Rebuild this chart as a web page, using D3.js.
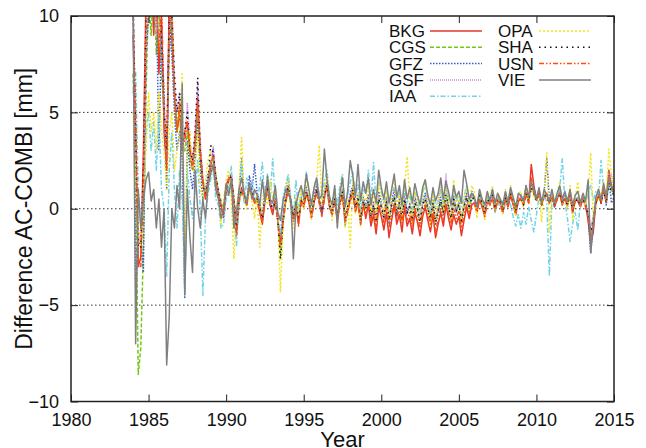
<!DOCTYPE html>
<html>
<head>
<meta charset="utf-8">
<script src="https://cdn.jsdelivr.net/npm/d3@7"></script>
<style>
  body { margin: 0; background: #fff; }
  svg { font-family: "Liberation Sans", Arial, sans-serif; }
  .grid line { stroke: #333; stroke-dasharray: 1.5, 2.5; stroke-width: 1; }
</style>
</head>
<body>
<svg id="chart" width="646" height="448"></svg>
<script>
"use strict";

// every series is sampled every two months, first sample 1984.0
const startYear = 1984;
const stepsPerYear = 6;

const xTicks = [1980, 1985, 1990, 1995, 2000, 2005, 2010, 2015];
const yTicks = [-10, -5, 0, 5, 10];
const gridValues = [-5, 0, 5];

const names = ["BKG", "CGS", "GFZ", "GSF", "IAA", "OPA", "SHA", "USN", "VIE"];

const bkg = [
  9, 4, -3, -2.5, 3, 11, 13, 12, 9, 12, 7, 10, 4, 2, 11, 9, 6, 4,
  5, 3, 4, 4.5, 3, 2.5, 3.5, 5.8, 3, 1.5, 0.5, 1.2, 2.2, 2.8, 1.5, 0.8, 0.2, -0.3,
  1.2, 1.6, 1.8, 0.3, -1.3, 0.6, 1.1, 0.5, 0.2, 1.2, 0.8, 0.3, 0.6, -0.2, -0.8, 0.4, 1.1, 0.2,
  -0.3, 0.5, -0.6, -1.8, -0.5, 0.4, 1.2, 0.3, -0.5, 0.2, -0.8, 0.5, 0.1, 0.8, 0.5, -0.4, 0.3, 1.0,
  0.5, -0.3, 0.6, 1.2, 0.1, -0.2, 0.4, -0.5, 0.3, 0.8, -0.6, -0.2, 0.5, 0.9, -0.1, 0.4, -0.7, 0.3,
  -0.5, 0.2, -0.9, -0.3, -1.3, 0.1, -0.4, -1.1, -0.2, -1.5, -0.6, 0.2, -0.8, -0.3, -1.2, 0.1, -0.9, -0.5,
  -1.3, -0.2, -0.7, -1.4, -0.4, 0.1, -0.6, -1.2, -0.3, -1.5, -0.8, -0.2, -0.9, 0.2, -0.5, -1.1, -0.3, -0.8,
  -0.4, -1.4, -0.6, 0.1, -0.5, 0.2, 0.3, -0.2, 0.5, 0.1, -0.4, 0.4, 0.2, 0.6, -0.1, 0.4, 0.3, -0.2,
  0.5, 0.1, 0.7, 0.2, -0.3, 0.4, 0.6, 0.2, 0.8, 0.3, 2.3, 1.2, 0.5, 0.9, 0.2, 0.6, 0.8, 0.3,
  0.7, 0.1, 0.5, 0.9, 0.2, 0.6, 0.3, 0.8, -0.2, 0.5, 0.4, 0.1, 0.6, 0.2, -0.6, -1.9, -1.2, 0.4,
  0.8, 0.3, 1.1, 0.5, 2.0, 1.2, 0.8
];

const cgs = [
  7, 2, -8.6, -7.2, -2, 6, 11, 9, 12, 8, 11, 7, 5, 3, 8, 10, 6, 4,
  5.5, 3.5, 3, 4, 2.5, 2, 3, 5, 2.5, 1.2, 0.8, 1.5, 2.5, 2.6, 1.8, 1, 0.4, 0,
  0.8, 1.4, 1.5, 0.6, -0.8, 0.3, 0.9, 0.7, 0.5, 1.3, 0.6, 0.4, 0.4, 0.1, -0.4, 0.6, 0.9, 0.3,
  0.1, 0.3, -0.4, -2.6, -0.8, 0.3, 0.9, 0.4, -0.3, 0.5, -0.4, 0.3, 0.4, 0.9, 0.3, -0.2, 0.5, 0.8,
  0.3, 0.1, 0.7, 1.1, 0.2, 0, 0.5, -0.2, 0.4, 0.9, -0.3, 0.1, 0.6, 1.0, 0.2, 0.5, -0.4, 0.4,
  0, 0.4, -0.3, 0.2, -0.6, 0.5, 0.1, -0.3, 0.4, -0.5, 0.2, 0.6, -0.2, 0.3, -0.4, 0.5, -0.2, 0.1,
  -0.5, 0.3, 0, -0.6, 0.2, 0.5, 0, -0.4, 0.3, -0.6, -0.1, 0.3, -0.2, 0.6, 0.1, -0.4, 0.4, -0.1,
  0.2, -0.5, 0.1, 0.5, 0, 0.6, 0.5, 0.1, 0.7, 0.3, -0.1, 0.5, 0.3, 0.7, 0.1, 0.5, 0.4, 0,
  0.6, 0.2, 0.8, 0.4, 0, 0.5, 0.5, 0.3, 0.9, 0.4, 1.2, 0.8, 0.4, 0.8, 0.3, 0.7, 0.6, 0.4,
  0.6, 0.2, 0.5, 0.8, 0.3, 0.5, 0.2, 0.7, 0, 0.4, 0.5, 0.2, 0.5, 0.3, -0.3, -1.2, -0.5, 0.3,
  0.6, 0.4, 0.9, 0.3, 1.4, 1.0, 0.7
];

const gfz = [
  12, -3.7, -2, -1.5, -3.3, 8, 10, 13, 10, 11, 3, 9, 6, 1, 10, 8, 5, 3,
  4, 2.5, -4.6, 3.5, 2, 1, 2.5, 4.5, 2, 0.5, 1, 1.8, 2, 3.1, 1.2, 0.6, 0, -0.5,
  1.0, 1.2, 1.3, 0.2, -1.1, 1.0, 2.6, 0.4, 0.3, 1.7, 1.0, 2.3, 0.8, 0.3, -0.5, 1.0, 1.3, 0.5,
  -0.2, 0.8, -0.7, -1.6, -0.4, 0.8, 1.6, 0.2, -0.7, 0.4, -0.6, 0.6, 0.5, 1.1, 0.4, -0.5, 0.6, 1.3,
  0.4, -0.2, 0.9, 1.4, 0.3, -0.4, 0.7, -0.6, 0.5, 1.0, -0.9, 0, 0.8, 1.2, 0.1, 0.7, -0.8, 0.6,
  0.2, 0.7, -0.5, 0.4, -0.9, 0.9, 0.3, -0.5, 0.6, -0.7, 0.4, 1.0, -0.4, 0.5, -0.6, 0.8, -0.3, 0.3,
  -0.7, 0.6, 0.1, -0.9, 0.4, 0.8, 0.1, -0.6, 0.5, -0.8, 0, 0.6, -0.3, 1.5, 0.2, -0.6, 0.7, -0.2,
  0.4, -0.7, 0.3, 0.8, 0.1, 0.9, 0.6, 0, 0.9, 0.4, -0.3, 0.7, 0.4, 1.0, 0, 0.6, 0.5, -0.2,
  0.8, 0.2, 1.0, 0.5, -0.2, 0.6, 0.7, 0.3, 1.2, 0.5, 1.0, 1.1, 0.5, 1.0, 0.2, 0.9, 2.6, 0.4,
  0.8, 0.1, 0.6, 1.1, 0.3, 0.7, 0.1, 0.9, -0.2, 0.5, 0.6, 0.2, 0.7, 0.2, -0.4, -2.3, -0.8, 0.5,
  0.9, 0.4, 1.2, 0.2, 1.6, 0.3, 0.6
];

const gsf = [
  10, 3, -2, -1, 1, 9, 12, 10, 11, 9, 12, 8, 5, 2.5, 9, 11, 6.5, 5,
  6, 4, 3.5, 5.5, 3.5, 2.5, 4, 6.5, 3.5, 1.5, 1, 1.4, 2.3, 3.2, 1.6, 0.9, 0.3, -0.1,
  1.1, 1.7, 1.6, 0.4, -0.9, 0.5, 1.0, 0.6, 0.4, 1.4, 0.9, 0.5, 0.5, 0, -0.3, 0.5, 1.0, 0.4,
  0, 0.4, -0.5, -1.5, -0.6, 0.5, 1.0, 0.5, -0.4, 0.3, -0.5, 0.4, 0.3, 1.0, 0.4, -0.3, 0.4, 0.9,
  0.4, 0, 0.8, 1.3, 0.2, -0.1, 0.6, -0.3, 0.5, 1.0, -0.4, 0.2, 0.7, 1.1, 0.3, 0.6, -0.5, 0.5,
  0.1, 0.5, -0.2, 0.3, -0.7, 0.6, 0.2, -0.2, 0.5, -0.4, 0.3, 0.7, -0.1, 0.4, -0.3, 0.6, -0.1, 0.2,
  -0.4, 0.4, 0.1, -0.5, 0.3, 0.6, 0.1, -0.3, 0.4, -0.5, 0, 1.2, 0, 1.8, 0.2, -0.3, 0.5, 0,
  0.3, -0.4, 0.2, 0.6, 0.1, 0.7, 0.6, 0.2, 0.8, 0.4, 0, 0.6, 0.4, 0.8, 0.2, 0.6, 0.5, 0.1,
  0.7, 0.3, 0.9, 0.5, 0.1, 0.6, 0.6, 0.4, 1.0, 0.5, 1.3, 0.9, 0.5, 0.9, 0.4, 0.8, 0.7, 0.5,
  0.7, 0.3, 0.6, 0.9, 0.4, 0.6, 0.3, 0.8, 0.1, 0.5, 0.6, 0.3, 0.6, 0.4, -0.2, -1.0, -0.4, 0.4,
  0.7, 0.5, 1.0, 0.4, 1.5, 1.8, 0.9
];

const iaa = [
  6, 7.1, 1, -1, 0, 4, 5, 3, 4.5, 2, 5, 1, 0, -3.5, 2, 4, 1, -1,
  2, 0.5, -4.4, 2, 0.5, -0.5, 1, 2.5, 0, -4.5, -0.5, 0.8, 1.5, 2.2, 0.5, 0.2, -1, -0.8,
  0.5, 1.0, 2.2, -0.5, -1.9, 0.2, 2.4, 0.3, 1.6, 0.8, 1.5, 0.6, 0.4, 1.2, 2.4, 0.3, 1.8, 0.5,
  2.6, 0.4, -0.5, -1.3, 0.6, 1.2, 1.8, 0.6, -0.3, 1.5, -0.2, 0.9, 0.6, 1.9, 0.9, 0.2, 1.1, 1.6,
  0.8, 0.5, 1.4, 2.0, 0.6, 0.3, 1.0, 0.2, 1.2, 1.8, 0.1, 0.7, 1.4, 1.9, 0.6, 1.3, 0, 1.0,
  0.8, 2.0, 0.3, 2.4, 0.2, 1.4, 0.9, 0.3, 1.2, 0.2, 0.8, 1.1, 0.4, 1.0, 0.1, 1.2, 0.3, 0.7,
  0, 0.9, 0.5, -0.2, 0.8, 1.3, 0.5, -0.1, 0.9, 0.1, 0.4, 1.0, 0.3, 1.1, 0.6, 0.1, 1.0, 0.4,
  0.7, 0.1, 0.6, 1.2, 0.4, 0.5, 0.4, 0.1, 0.6, 0.3, -0.1, 0.5, 0.2, 0.7, -0.2, 0.3, 0.1, 0.4,
  0.1, 0.5, 0.2, -0.4, -0.9, -0.3, -1.0, -0.2, -0.8, 0.1, -0.6, -1.2, -0.3, 0.6, 0.2, 0.8, 0.3, -3.5,
  0.6, 0.2, 0.7, 1.0, 2.6, 0.4, -0.5, -1.7, -0.8, -0.2, -1.1, 0.3, 0.5, 0.2, 0.8, 1.2, 0.4, 0.9,
  0.5, 2.5, 1.0, 0.4, 1.8, 0.7, 0.6
];

const opa = [
  5, 2, -1, -2, 1, 3, 6, 4, 5, 3, 6, 4, 3, 1, 4, 5, 2, 3,
  4, 7.0, -2.4, 3, 4, 2, 2, 4, 1, 0.5, 1.5, 2.5, 3.0, 2.0, 1.0, 0.5, -0.8, 0.5,
  1.5, 2.0, 0.5, -2.6, 0, 1.2, 3.7, 0.5, 0, 1.0, 0.4, -0.5, 0.8, -2.0, 0.5, 1.0, 0.2, 1.5,
  0.5, 1.0, -0.5, -4.3, -1.0, 0.8, 1.5, 0, -1.0, 0.6, -0.3, 1.0, 0, 1.5, 0.8, -0.6, 0.9, 1.4,
  3.3, 0.2, 1.0, 1.8, 0.5, -0.6, 0.9, -0.8, 0.4, 1.6, -1.0, 0.5, -2.1, 1.5, -0.3, 0.8, -0.9, 0.7,
  0.4, 1.2, -0.2, 1.0, -0.8, 1.3, 0.6, -0.3, 1.1, -0.6, 0.9, 1.6, 0, 0.8, -0.7, 1.1, 2.7, 0.4,
  -0.8, 0.9, 0.3, -0.9, 0.8, 1.5, 0.3, -0.9, 1.0, -0.7, 0.4, 1.6, -0.2, 1.3, 0.5, -0.8, 1.5, 0.1,
  0.6, -0.6, 0.5, 1.1, 0.2, 1.2, 0.9, -0.5, 1.0, 0.5, -0.6, 0.8, 0.5, 1.2, -0.1, 0.8, 0.6, -0.3,
  1.0, 0.3, 1.2, 0.4, -0.4, 0.8, 0.9, 0.1, 1.1, 0.3, 1.1, 0.6, 0.4, 1.0, -0.7, 0.9, 2.9, -1.2,
  0.9, 0.3, 0.8, 1.4, 0.2, 0.6, 0, 1.2, -0.6, 0.6, 1.4, 0.3, 0.8, 0.1, 0.9, 2.9, -0.5, 0.4,
  1.1, 0.5, 1.4, 0.6, 3.1, 1.6, 1.0
];

const sha = [
  11, 4, -2, -2, 2, 10, 12, 11, 12, 10, 11, 9, 5, 3, 10, 10, 7, 5,
  6, 3.5, 4, 5, 3, 2.5, 4, 6.8, 3, 1.2, 0.8, 1.3, 3.3, 2.9, 1.7, 0.9, 0.1, -0.2,
  1.1, 1.5, 1.7, 0.5, -1.1, 0.5, 1.0, 0.7, 0.4, 1.3, 0.8, 0.4, 0.5, 0, -0.5, 0.5, 1.0, 0.3,
  -0.1, 0.4, -0.6, -2.6, -0.7, 0.4, 1.1, 0.4, -0.4, 0.3, -0.6, 0.4, 0.2, 0.9, 0.4, -0.3, 0.4, 0.9,
  0.4, -0.1, 0.7, 1.2, 0.2, -0.1, 0.5, -0.4, 0.4, 0.9, -0.5, 0.1, 0.6, 1.0, 0.1, 0.5, -0.6, 0.4,
  0, 0.4, -0.4, 0.2, -0.7, 0.5, 0.1, -0.4, 0.4, -0.6, 0.2, 0.6, -0.3, 0.3, -0.5, 0.5, -0.2, 0.1,
  -0.6, 0.3, 0, -0.7, 0.2, 0.5, 0, -0.5, 0.3, -0.7, -0.1, 0.4, -0.2, 0.7, 0.1, -0.5, 0.5, -0.1,
  0.2, -0.6, 0.1, 0.6, 0, 0.6, 0.5, 0.1, 0.7, 0.3, -0.2, 0.5, 0.3, 0.7, 0, 0.5, 0.4, -0.1,
  0.6, 0.2, 0.8, 0.4, -0.1, 0.5, 0.5, 0.2, 0.9, 0.4, 1.1, 0.8, 0.4, 0.8, 0.2, 0.7, 0.6, 0.3,
  0.6, 0.2, 0.5, 0.8, 0.3, 0.5, 0.2, 0.7, -0.1, 0.4, 0.5, 0.2, 0.5, 0.2, -0.3, -1.3, -0.6, 0.3,
  0.6, 0.3, 0.9, 0.3, 1.3, 0.9, 0.7
];

const usn = [
  10, 5, -3, -3, 1, 9, 13, 11, 10, 11, 8, 11, 5, 2, 10, 10, 6, 4,
  5.5, 3.5, 3.5, 4.5, 3, 2, 3.5, 5.5, 3, 1.3, 0.6, 1.3, 2.3, 2.7, 1.4, 0.7, 0.1, -0.4,
  1.0, 1.5, 1.6, 0.3, -1.4, 0.4, 1.0, 0.6, 0.2, 1.1, 0.7, 0.3, 0.4, -0.2, -0.7, 0.4, 1.0, 0.2,
  -0.2, 0.4, -0.7, -2.0, -0.6, 0.3, 1.0, 0.3, -0.6, 0.2, -0.9, 0.4, 0.1, 0.8, 0.3, -0.5, 0.3, 0.8,
  0.3, -0.4, 0.5, 1.1, 0, -0.3, 0.4, -0.6, 0.2, 0.7, -0.7, -0.1, 0.4, 0.8, -0.2, 0.3, -0.8, 0.2,
  -0.3, 0.2, -0.6, 0, -1.0, 0.2, -0.2, -0.7, 0.1, -1.0, -0.3, 0.3, -0.5, 0, -0.8, 0.2, -0.6, -0.2,
  -0.9, 0, -0.4, -1.0, -0.1, 0.2, -0.3, -0.8, 0, -1.3, -0.5, 0, -0.6, 0.3, -0.2, -0.8, 0, -0.5,
  -0.1, -1.0, -0.3, 0.2, -0.3, 0.3, 0.3, -0.1, 0.5, 0.1, -0.4, 0.4, 0.2, 0.6, -0.1, 0.4, 0.3, -0.2,
  0.5, 0.1, 0.7, 0.3, -0.2, 0.4, 0.5, 0.2, 0.8, 0.3, 1.6, 0.9, 0.4, 0.8, 0.2, 0.6, 0.7, 0.3,
  0.6, 0.1, 0.5, 0.8, 0.2, 0.5, 0.2, 0.7, -0.2, 0.4, 0.4, 0.1, 0.5, 0.1, -0.5, -1.5, -0.9, 0.3,
  0.7, 0.3, 1.0, 0.4, 1.7, 1.1, 0.7
];

const vie = [
  11, -7.0, 1, -1, 0.5, 1.5, 1.9, 0.4, 1, -1, 0.5, -2, 0, -8.1, -5.6, 0, -1, 1.2,
  0, 6.5, -4.4, 1, -1.5, -3.3, 2, 0, -1, 0.5, -0.5, 1.2, 1.8, 2.3, 1.0, 0.5, -0.5, 0,
  1.3, 0.7, 1.5, -1.0, -0.2, 1.0, 1.6, 0.8, 0.3, 1.3, 0.5, 1.0, 0.7, 0.2, 1.5, 0.4, 1.7, 0.5,
  0.3, 1.2, -0.2, -0.6, 0.4, 1.0, 0.8, 0.5, -2.6, 0.2, 0.8, 1.2, 0.6, 1.8, 1.0, 0.2, 1.1, 1.6,
  0.5, 0.7, 3.1, 1.5, 0.6, 0.2, 1.2, -1.0, 0.8, 1.6, 0.1, 0.9, 2.5, 1.7, 0.6, 2.3, 0.4, 1.4,
  0.8, 1.6, 0.2, 1.0, 0.3, 2.0, 1.1, 0.5, 1.4, 0.3, 1.0, 1.8, 0.6, 1.2, 0.2, 1.5, 0.5, 1.1,
  0.3, 1.3, 0.7, 0.2, 1.1, 1.5, 0.7, 0.2, 1.1, 0.4, 0.8, 1.6, 0.5, 1.4, 0.9, 0.2, 1.2, 0.6,
  0.9, 0.3, 2.0, 1.3, 0.5, 0.8, 0.6, 0.1, 1.0, 0.5, 0.2, 0.9, 0.4, 1.0, 0.3, 0.8, 0.5, 0.2,
  0.9, 0.3, 1.1, 0.6, 0.1, 0.8, 0.7, 0.4, 1.2, 0.6, 1.4, 1.0, 0.5, 1.1, 0.3, 1.0, 0.7, 0.4,
  1.0, 0.3, 0.8, 1.2, 0.5, 0.9, 0.4, 1.0, 0.2, 0.7, 0.9, 0.3, 0.8, 0.4, 1.5, -2.3, -0.7, 0.6,
  1.0, 0.5, 1.3, 0.6, 1.6, 1.2, 0.9
];

const seriesValues = [bkg, cgs, gfz, gsf, iaa, opa, sha, usn, vie];

// gnuplot-like line types
const lineStyles = {
  BKG: { color: "#e8362a", dash: null },
  CGS: { color: "#74c514", dash: "4,2" },
  GFZ: { color: "#3b5cc4", dash: "1.5,1.5" },
  GSF: { color: "#cf8be0", dash: "1,1" },
  IAA: { color: "#72d3e6", dash: "5,2,1.5,2" },
  OPA: { color: "#f2e51c", dash: "2,2" },
  SHA: { color: "#111111", dash: "1.5,4" },
  USN: { color: "#ff4d0c", dash: "5,2,1.5,2,1.5,2" },
  VIE: { color: "#808080", dash: null },
};

const svg = d3.select("#chart");
const margin = { top: 16, right: 32, bottom: 46.5, left: 71 };
const width = 646 - margin.left - margin.right;
const height = 448 - margin.top - margin.bottom;

const x = d3.scaleLinear().domain([1980, 2015]).range([0, width]);
const y = d3.scaleLinear().domain([-10, 10]).range([height, 0]);

const graph = svg.append("g").attr("transform", `translate(${margin.left},${margin.top})`);

svg.append("defs").append("clipPath").attr("id", "plot-clip")
  .append("rect").attr("width", width).attr("height", height);

graph.append("g").attr("class", "grid")
  .selectAll("line").data(gridValues).join("line")
  .attr("x1", 0).attr("x2", width)
  .attr("y1", (d) => y(d)).attr("y2", (d) => y(d));

const series = names.map((name, i) => ({
  name,
  points: seriesValues[i].map((v, j) => [startYear + j / stepsPerYear, v]),
}));

const line = d3.line().x((d) => x(d[0])).y((d) => y(d[1]));

graph.append("g").attr("clip-path", "url(#plot-clip)")
  .selectAll("path").data(series).join("path")
  .attr("fill", "none")
  .attr("stroke", (d) => lineStyles[d.name].color)
  .attr("stroke-width", 1.5)
  .attr("stroke-dasharray", (d) => lineStyles[d.name].dash)
  .attr("stroke-linejoin", "round")
  .attr("d", (d) => line(d.points));

// axes: ticks pointing inward, mirrored on top and right
const tickLen = 7;
const xAxis = graph.append("g").attr("transform", `translate(0,${height})`)
  .call(d3.axisBottom(x).tickValues(xTicks).tickFormat(d3.format("d")).tickSizeInner(-tickLen).tickSizeOuter(0).tickPadding(12));
const xAxisTop = graph.append("g")
  .call(d3.axisTop(x).tickValues(xTicks).tickFormat("").tickSizeInner(-tickLen).tickSizeOuter(0));
const yAxis = graph.append("g")
  .call(d3.axisLeft(y).tickValues(yTicks).tickSizeInner(-tickLen).tickSizeOuter(0).tickPadding(12));
const yAxisRight = graph.append("g").attr("transform", `translate(${width},0)`)
  .call(d3.axisRight(y).tickValues(yTicks).tickFormat("").tickSizeInner(-tickLen).tickSizeOuter(0));

[xAxis, xAxisTop, yAxis, yAxisRight].forEach((ax) => {
  ax.select(".domain").remove();
  ax.selectAll(".tick line").attr("stroke", "#222").attr("stroke-width", 1);
  ax.selectAll("text").attr("fill", "#111").style("font-size", "18px");
});

graph.append("rect")
  .attr("width", width).attr("height", height)
  .attr("fill", "none").attr("stroke", "#222").attr("stroke-width", 1.5);

svg.append("text")
  .attr("x", margin.left + width / 2).attr("y", 447)
  .attr("text-anchor", "middle").style("font-size", "22px").attr("fill", "#111")
  .text("Year");

svg.append("text")
  .attr("transform", `translate(32,${margin.top + height / 2}) rotate(-90)`)
  .attr("text-anchor", "middle").style("font-size", "23px").attr("fill", "#111")
  .text("Difference AC-COMBI [mm]");

// legend, two columns
const legend = svg.append("g").attr("transform", "translate(389,31)");
const rowGap = 16.3;
const legendItems = legend.selectAll("g").data(names).join("g")
  .attr("transform", (d, i) => `translate(${i < 5 ? 0 : 109},${(i < 5 ? i : i - 5) * rowGap})`);

legendItems.append("text")
  .attr("y", 6).style("font-size", "17px").attr("fill", "#111")
  .text((d) => d);

legendItems.append("line")
  .attr("x1", 41).attr("x2", 93).attr("y1", 0).attr("y2", 0)
  .attr("stroke", (d) => lineStyles[d].color)
  .attr("stroke-width", 1.5)
  .attr("stroke-dasharray", (d) => lineStyles[d].dash);
</script>
</body>
</html>
